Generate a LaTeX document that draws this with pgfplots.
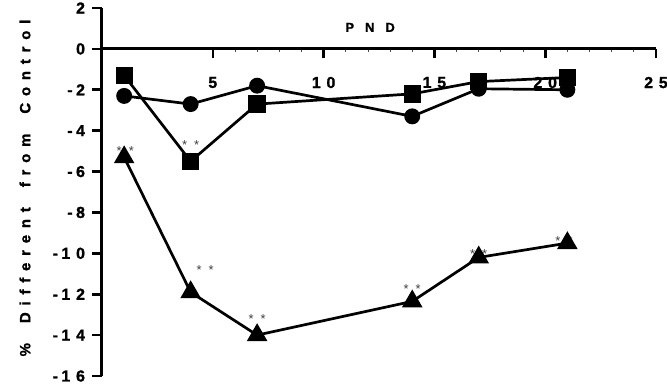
\documentclass[border=0pt]{standalone}
\usepackage{pgfplots}
\pgfplotsset{compat=1.18}
\usepackage{fontspec}
\setmainfont{Liberation Sans}[BoldFeatures={FakeBold=1.2}]
\newcommand{\Stars}{*\hspace{7bp}*}
\newcommand{\Lgap}{\kern6.8bp}
\newcommand{\Wgap}{\kern20bp}
\newcommand{\Mneg}{-\kern3.5bp}
\newcommand{\Dgap}{\kern5.8bp}
\begin{document}
\begin{tikzpicture}
\begin{axis}[
  at={(0,0)}, anchor=south west,
  scale only axis, width=554bp, height=368bp,
  xmin=0, xmax=25, ymin=-16, ymax=2,
  axis x line=middle, axis y line=left,
  axis line style={-, line width=3bp},
  tick align=outside,
  xtick={5,10,15,20,25}, xticklabels={5,1\Dgap 0,1\Dgap 5,2\Dgap 0,2\Dgap 5},
  minor x tick num=4,
  ytick={-16,-14,...,2},
  yticklabels={\Mneg 1\Dgap 6,\Mneg 1\Dgap 4,\Mneg 1\Dgap 2,\Mneg 1\Dgap 0,\Mneg 8,\Mneg 6,\Mneg 4,\Mneg 2,0,2},
  major tick length=9.5bp, minor tick length=3bp,
  every tick/.style={black, line width=2.6bp},
  minor tick style={line width=0.8bp, black!70},
  tick label style={font=\bfseries\fontsize{16}{16}\selectfont},
  xticklabel style={yshift=-15bp},
  yticklabel style={xshift=-4bp},
  hide obscured x ticks=false, hide obscured y ticks=false,
  xlabel={P\kern11bp N\kern11bp D},
  xlabel style={at={(axis cs:12.1,1.05)}, anchor=center, font=\bfseries\fontsize{13}{13}\selectfont},
  clip=false,
]
\addplot[black, line width=2.7bp, mark=square*, mark size=7.3bp, mark options={solid}]
  coordinates {(1,-1.3) (4,-5.5) (7,-2.7) (14,-2.2) (17,-1.6) (21,-1.4)};
\addplot[black, line width=2.7bp, mark=*, mark size=6.6bp, mark options={solid}]
  coordinates {(1,-2.3) (4,-2.7) (7,-1.8) (14,-3.3) (17,-1.95) (21,-2.0)};
\addplot[black, line width=2.7bp, mark=triangle*, mark size=9.2bp, mark options={solid}]
  coordinates {(1,-5.3) (4,-11.9) (7,-14.0) (14,-12.35) (17,-10.2) (21,-9.5)};
\begin{scope}[every node/.style={font=\fontsize{13}{13}\selectfont, text=black!75, inner sep=0pt}]
\node at (axis cs:1.05,-5.0) {\Stars};
\node at (axis cs:4.0,-4.7) {\Stars};
\node at (axis cs:4.65,-10.8) {\Stars};
\node at (axis cs:7.0,-13.2) {\Stars};
\node at (axis cs:14.0,-11.75) {\Stars};
\node at (axis cs:17.0,-10.05) {\Stars};
\node at (axis cs:20.85,-9.4) {\Stars};
\end{scope}
\end{axis}
\node[rotate=90, font=\bfseries\fontsize{15}{15}\selectfont] at (-77bp,188bp)
  {\%\Wgap D\Lgap i\Lgap f\Lgap f\Lgap e\Lgap r\Lgap e\Lgap n\Lgap t\Wgap f\Lgap r\Lgap o\Lgap m\Wgap C\Lgap o\Lgap n\Lgap t\Lgap r\Lgap o\Lgap l};
\pgfresetboundingbox
\path (-102bp,-14bp) rectangle (565bp,376bp);
\end{tikzpicture}
\end{document}
